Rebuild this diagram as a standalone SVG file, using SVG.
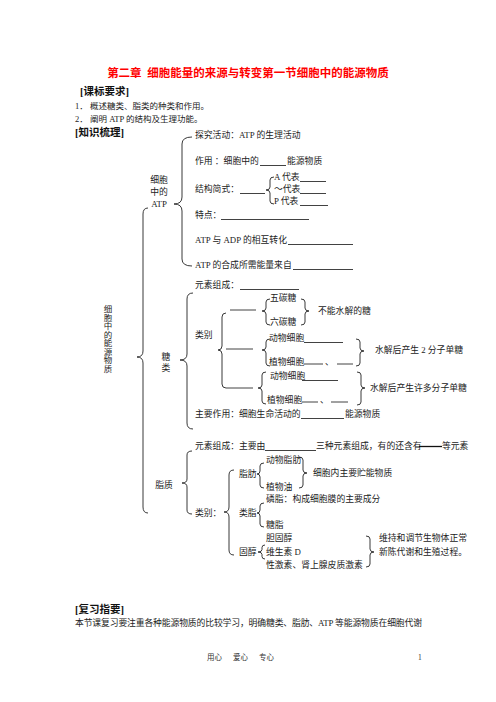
<svg xmlns="http://www.w3.org/2000/svg" width="496" height="702" viewBox="0 0 496 702">
<style>
text{font-family:"Liberation Serif","Noto Sans CJK SC",serif;font-size:8.8px;fill:#222}
.h{font-size:10.5px;font-weight:bold;fill:#111}
.s{font-size:8.5px}
.f{font-size:7.5px;fill:#333}
.m{text-anchor:middle}
.br{fill:none;stroke:#222;stroke-width:0.9}
.ln{stroke:#111;stroke-width:0.8}
.tk{stroke:#111;stroke-width:1.3}
</style>
<rect width="496" height="702" fill="#fff"/>
<g id="header">
<text x="248" y="76.5" class="m" style="font-size:11.5px;font-weight:bold;fill:#f00">第二章&#160;&#160;细胞能量的来源与转变第一节细胞中的能源物质</text>
<text x="80" y="95" class="h">[课标要求]</text>
<text x="75" y="109" class="s">1．</text><text x="90" y="109" class="s">概述糖类、脂类的种类和作用。</text>
<text x="75" y="122" class="s">2．</text><text x="90" y="122" class="s">阐明 ATP 的结构及生理功能。</text>
<text x="75" y="135.5" class="h">[知识梳理]</text>
</g>
<g id="root">
<text class="m s" x="108" y="312">细</text><text class="m s" x="108" y="320.5">胞</text><text class="m s" x="108" y="329">中</text><text class="m s" x="108" y="337.5">的</text><text class="m s" x="108" y="346">能</text><text class="m s" x="108" y="354.5">源</text><text class="m s" x="108" y="363">物</text><text class="m s" x="108" y="371.5">质</text>
</g>
<g id="atp">
<text class="m" x="159" y="183.3">细胞</text><text class="m" x="159" y="195.3">中的</text><text class="m" x="159" y="207.3">ATP</text>
<text x="195" y="138.3">探究活动：ATP 的生理活动</text>
<text x="195" y="164.3">作用 ：细胞中的</text><line class="ln" x1="260" y1="165.5" x2="286" y2="165.5"/><text x="287" y="164.3">能源物质</text>
<text x="195" y="192.3">结构简式：</text><line class="ln" x1="240" y1="193.5" x2="265" y2="193.5"/>
<text x="274" y="180.3">A 代表</text><line class="ln" x1="300" y1="181.5" x2="326" y2="181.5"/>
<text x="274" y="192.3">～代表</text><line class="ln" x1="300" y1="193.5" x2="326" y2="193.5"/>
<text x="274" y="204.3">P 代表</text><line class="ln" x1="300" y1="205.5" x2="328" y2="205.5"/>
<text x="195" y="218.3">特点：</text><line class="ln" x1="221" y1="219.5" x2="309" y2="219.5"/>
<text x="195" y="243.3">ATP 与 ADP 的相互转化</text><line class="ln" x1="288" y1="244.5" x2="353" y2="244.5"/>
<text x="195" y="268.3">ATP 的合成所需能量来自</text><line class="ln" x1="293" y1="269.5" x2="353" y2="269.5"/>
</g>
<g id="sugar">
<text class="m" x="166" y="360.3">糖</text><text class="m" x="166" y="371.3">类</text>
<text x="195" y="288.3">元素组成：</text><line class="ln" x1="240" y1="289.5" x2="299" y2="289.5"/>
<text x="270" y="301.3">五碳糖</text>
<text x="270" y="325.3">六碳糖</text>
<text x="318" y="314.3">不能水解的糖</text>
<text x="195" y="338.3">类别</text>
<line class="ln" x1="230" y1="310" x2="256" y2="310"/>
<line class="ln" x1="226" y1="349" x2="253" y2="349"/>
<line class="ln" x1="226" y1="388" x2="253" y2="388"/>
<text x="269" y="341.3">动物细胞</text><line class="ln" x1="304" y1="342.5" x2="343" y2="342.5"/>
<text x="269" y="365.3">植物细胞</text><line class="ln" x1="304" y1="364" x2="323" y2="364"/><text x="325" y="365.3">、</text><line class="ln" x1="337" y1="364" x2="353" y2="364"/>
<text x="375" y="353.3">水解后产生 2 分子单糖</text>
<text x="270" y="379.3">动物细胞</text><line class="ln" x1="302" y1="380.5" x2="338" y2="380.5"/>
<text x="267" y="403.3">植物细胞</text><line class="ln" x1="302" y1="402" x2="318" y2="402"/><text x="320" y="403.3">、</text><line class="ln" x1="331" y1="402" x2="348" y2="402"/>
<text x="370" y="391.3">水解后产生许多分子单糖</text>
<text x="195" y="417.3">主要作用：细胞生命活动的</text><line class="ln" x1="301" y1="418.5" x2="344" y2="418.5"/><text x="345" y="417.3">能源物质</text>
</g>
<g id="lipid">
<text class="m" x="164" y="488.3">脂质</text>
<text x="195" y="449.3">元素组成：主要由</text><line class="ln" x1="265" y1="450.5" x2="316" y2="450.5"/><text x="316" y="449.3">三种元素组成，有的还含有</text><line class="tk" x1="419" y1="446.5" x2="442" y2="446.5"/><text x="442" y="449.3">等元素</text>
<text x="195" y="516.3">类别：</text>
<text x="239" y="477.3">脂肪</text>
<text x="266" y="463.3">动物脂肪</text>
<text x="266" y="490.3">植物油</text>
<text x="313" y="476.3">细胞内主要贮能物质</text>
<text x="266" y="502.3">磷脂：构成细胞膜的主要成分</text>
<text x="239" y="516.3">类脂</text>
<text x="266" y="528.3">糖脂</text>
<text x="266" y="541.3">胆固醇</text>
<text x="239" y="555.3">固醇</text>
<text x="266" y="555.3">维生素 D</text>
<text x="266" y="568.3">性激素、肾上腺皮质激素</text>
<text x="379" y="541.3">维持和调节生物体正常</text>
<text x="379" y="555.3">新陈代谢和生殖过程。</text>
</g>
<g id="connectors">
<path class="br" d="M148,208 Q143,208 143,214 L143,351 Q143,357 137,357 Q143,357 143,363 L143,507 Q143,513 148,513"/>
<path class="br" d="M192,137 Q182,137 182,144 L182,197 Q182,204 174,204 Q182,204 182,211 L182,259 Q182,266 192,266"/>
<path class="br" d="M274,177 Q270,177 270,180 L270,187 Q270,190 266,190 Q270,190 270,193 L270,201 Q270,204 274,204"/>
<path class="br" d="M193,293 Q187,293 187,299 L187,354 Q187,360 180,360 Q187,360 187,366 L187,423 Q187,429 193,429"/>
<path class="br" d="M226,313 Q222,313 222,317 L222,346 Q222,350 218,350 Q222,350 222,354 L222,384 Q222,388 226,388"/>
<path class="br" d="M270,299 Q266,299 266,302 L266,308 Q266,311 262,311 Q266,311 266,314 L266,322 Q266,325 270,325"/>
<path class="br" d="M301,299 Q305,299 305,302 L305,308 Q305,311 309,311 Q305,311 305,314 L305,322 Q305,325 301,325"/>
<path class="br" d="M270,339 Q266,339 266,342 L266,347 Q266,350 262,350 Q266,350 266,353 L266,363 Q266,366 270,366"/>
<path class="br" d="M356,339 Q360,339 360,342 L360,348 Q360,351 364,351 Q360,351 360,354 L360,363 Q360,366 356,366"/>
<path class="br" d="M266,372 Q262,372 262,375 L262,385 Q262,388 258,388 Q262,388 262,391 L262,401 Q262,404 266,404"/>
<path class="br" d="M357,372 Q361,372 361,375 L361,385 Q361,388 365,388 Q361,388 361,391 L361,402 Q361,405 357,405"/>
<path class="br" d="M192,451 Q187,451 187,455 L187,479 Q187,483 182,483 Q187,483 187,487 L187,510 Q187,514 192,514"/>
<path class="br" d="M234,470 Q229,470 229,475 L229,507 Q229,512 224,512 Q229,512 229,517 L229,550 Q229,555 234,555"/>
<path class="br" d="M264,463 Q260,463 260,466 L260,471 Q260,474 257,474 Q260,474 260,477 L260,485 Q260,488 264,488"/>
<path class="br" d="M299,457 Q303,457 303,460 L303,470 Q303,473 307,473 Q303,473 303,476 L303,485 Q303,488 299,488"/>
<path class="br" d="M264,503 Q260,503 260,506 L260,510 Q260,513 257,513 Q260,513 260,516 L260,524 Q260,527 264,527"/>
<path class="br" d="M265,545 Q262,545 262,547.5 L262,549.5 Q262,552 258,552 Q262,552 262,554.5 L262,556.5 Q262,559 265,559"/>
<path class="br" d="M366,536 Q370,536 370,539 L370,549 Q370,552 374,552 Q370,552 370,555 L370,564 Q370,567 366,567"/>
</g>
<g id="review">
<text x="75" y="613" class="h">[复习指要]</text>
<text x="75" y="626" textLength="347" lengthAdjust="spacing">本节课复习要注重各种能源物质的比较学习，明确糖类、脂肪、ATP 等能源物质在细胞代谢</text>
</g>
<g id="footer">
<text class="f" x="207" y="660">用心</text><text class="f" x="233" y="660">爱心</text><text class="f" x="259" y="660">专心</text>
<text class="f" x="418" y="660">1</text>
</g>
</svg>
